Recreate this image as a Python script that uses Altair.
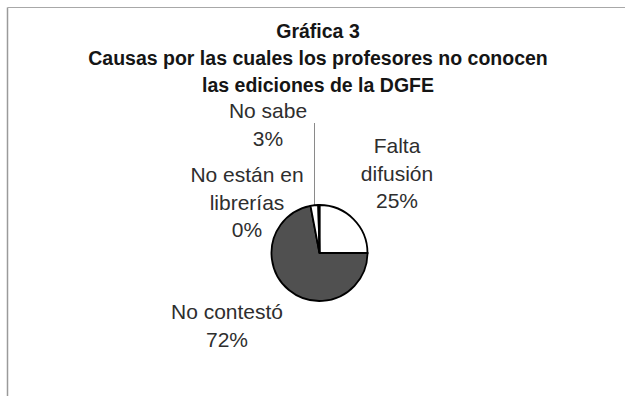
import altair as alt
import pandas as pd

categories = ["Falta difusión", "No contestó", "No sabe", "No están en librerías"]
values = [25, 72, 2.6, 0.4]
label_lines = ["Falta\ndifusión", "No contestó", "No sabe", "No están en\nlibrerías"]
fills = ["#ffffff", "#505050", "#ffffff", "#6a6a6a"]
title_lines = ["Gráfica 3", "Causas por las cuales los profesores no conocen", "las ediciones de la DGFE"]

total = sum(values)
df = pd.DataFrame({
    "cat": categories,
    "val": values,
    "idx": list(range(len(categories))),
    "label": [f"{l}\n{round(v / total * 100):.0f}%" for l, v in zip(label_lines, values)],
})

base = alt.Chart(df)

pie = base.mark_arc(outerRadius=48, stroke="#000000", strokeWidth=1.8).encode(
    theta=alt.Theta("val:Q", stack=True),
    order=alt.Order("idx:Q"),
    color=alt.Color("cat:N", scale=alt.Scale(domain=categories, range=fills), legend=None),
    x=alt.value(319.5),
    y=alt.value(253),
)

label_pos = {
    "Falta difusión": (397, 153),
    "No contestó": (227, 319),
    "No sabe": (268, 118),
    "No están en librerías": (247, 182),
}

label_layers = []
for cat, (lx, ly) in label_pos.items():
    label_layers.append(
        base.transform_filter(alt.datum.cat == cat)
        .mark_text(font="Liberation Sans", fontSize=21, lineBreak="\n", lineHeight=27.5,
                   align="center", baseline="alphabetic", color="#2e2e2e")
        .encode(text="label:N", x=alt.value(lx), y=alt.value(ly))
    )

title_df = pd.DataFrame({"t": ["\n".join(title_lines)]})
title = alt.Chart(title_df).mark_text(
    font="Liberation Sans", fontSize=19.5, fontWeight="bold", lineBreak="\n", lineHeight=27,
    align="center", baseline="alphabetic", color="#151515"
).encode(text="t:N", x=alt.value(318), y=alt.value(38))

leader = base.transform_filter(alt.datum.cat == "No sabe").mark_rule(
    color="#8a8a8a", strokeWidth=1
).encode(x=alt.value(314.5), y=alt.value(123), y2=alt.value(206))

border_left = base.transform_filter(alt.datum.idx == 0).mark_rule(
    color="#9a9a9a", strokeWidth=1.5
).encode(x=alt.value(7.5), y=alt.value(7.5), y2=alt.value(396))
border_top = base.transform_filter(alt.datum.idx == 0).mark_rule(
    color="#a8a8a8", strokeWidth=1.2
).encode(x=alt.value(7.5), x2=alt.value(625), y=alt.value(7.5))

chart = alt.layer(border_left, border_top, leader, pie, *label_layers, title).properties(
    width=625, height=396, autosize=alt.AutoSizeParams(type="none"), padding=0,
    background="#ffffff"
).configure_view(stroke=None)

chart.save("out.html", embed_options={"renderer": "svg", "actions": False})
